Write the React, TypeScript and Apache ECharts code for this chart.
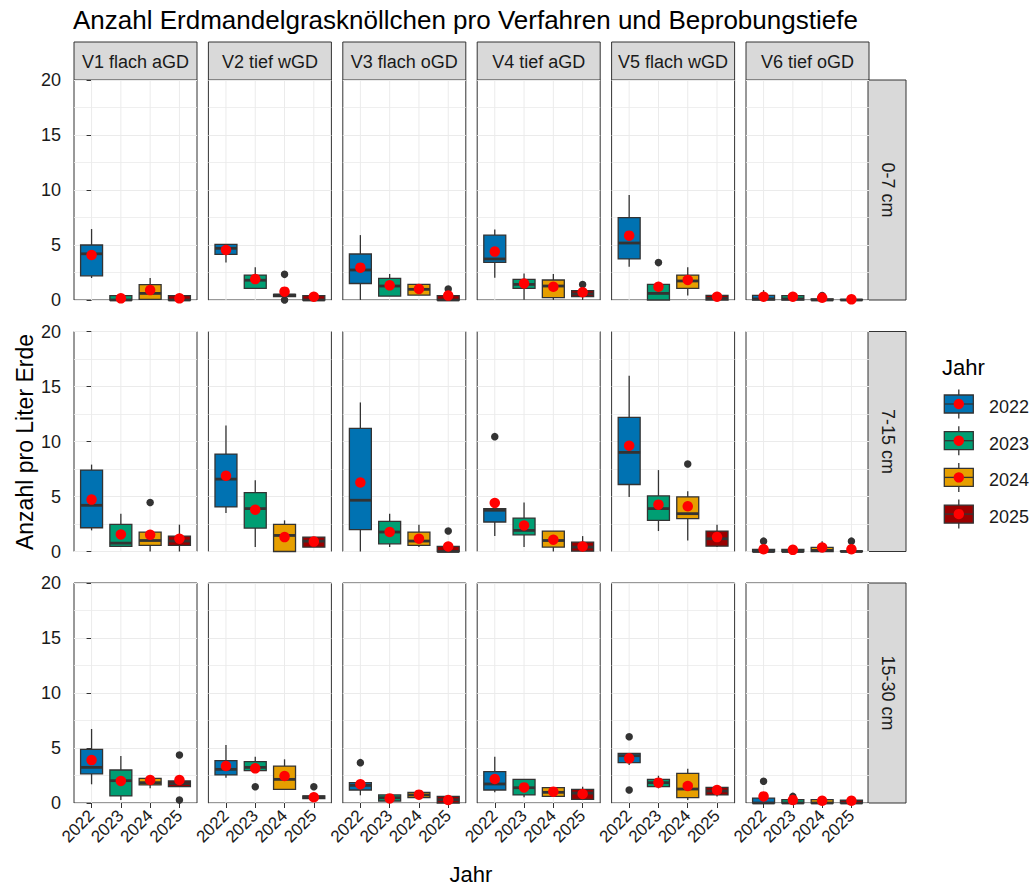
import React, { useEffect, useRef } from 'react';
import * as echarts from 'echarts';

const years = ['2022', '2023', '2024', '2025'];
const verfahren = ['V1 flach aGD', 'V2 tief wGD', 'V3 flach oGD', 'V4 tief aGD', 'V5 flach wGD', 'V6 tief oGD'];
const tiefen = ['0-7 cm', '7-15 cm', '15-30 cm'];
const yearColors = ['#0072B2', '#009E73', '#E69F00', '#990000'];
const chartTitle = 'Anzahl Erdmandelgrasknöllchen pro Verfahren und Beprobungstiefe';
const yTitle = 'Anzahl pro Liter Erde';
const xTitle = 'Jahr';
const legendTitle = 'Jahr';

// per Verfahren, per Jahr: [unterer Whisker, Q1, Median, Q3, oberer Whisker]
const box07 = [
  [[2.0, 2.2, 4.2, 5.0, 6.45], [0, 0, 0, 0.4, 0.4], [0, 0.05, 0.6, 1.4, 2.0], [0, 0, 0, 0.4, 0.4]],
  [[3.4, 4.15, 4.7, 5.05, 5.05], [1.0, 1.06, 1.8, 2.27, 2.97], [0.3, 0.3, 0.45, 0.52, 0.52], [0, 0, 0, 0.4, 0.4]],
  [[0, 1.5, 2.73, 4.18, 5.9], [0.36, 0.36, 1.27, 1.97, 2.36], [0.45, 0.45, 0.97, 1.42, 1.42], [0, 0, 0, 0.4, 0.4]],
  [[2.03, 3.42, 3.73, 5.9, 6.42], [0, 1.06, 1.42, 1.88, 2.42], [0, 0.21, 1.27, 1.82, 2.36], [0, 0.3, 0.55, 0.85, 0.85]],
  [[3.03, 3.73, 5.18, 7.48, 9.55], [0, 0, 0.6, 1.42, 1.42], [0.4, 1.06, 1.73, 2.27, 2.97], [0, 0, 0.15, 0.42, 0.42]],
  [[0, 0, 0.1, 0.42, 0.9], [0, 0, 0.1, 0.4, 0.4], [0, 0, 0, 0.1, 0.1], [0, 0, 0, 0.05, 0.05]],
];
const mean07 = [
  [4.09, 0.15, 0.9, 0.15],
  [4.55, 1.9, 0.76, 0.3],
  [2.94, 1.33, 1.0, 0.4],
  [4.4, 1.5, 1.2, 0.7],
  [5.85, 1.2, 1.82, 0.3],
  [0.3, 0.3, 0.2, 0.06],
];
const out07 = [
  [[], [], [], []],
  [[], [], [2.33, 0], []],
  [[], [], [], [1.0]],
  [[], [], [], [1.4]],
  [[], [3.4], [], []],
  [[], [], [0.4], []],
];

const box715 = [
  [[1.92, 2.16, 4.2, 7.4, 7.9], [0.46, 0.46, 0.76, 2.47, 3.44], [0, 0.55, 1.0, 1.77, 1.77], [0, 0.55, 0.95, 1.4, 2.44]],
  [[3.5, 4.05, 6.58, 8.86, 11.45], [0.4, 2.13, 3.9, 5.36, 6.48], [0, 0, 1.46, 2.47, 2.83], [0.4, 0.4, 0.94, 1.31, 1.31]],
  [[0, 1.98, 4.66, 11.2, 13.55], [0.4, 0.7, 1.77, 2.74, 3.44], [0.4, 0.55, 0.95, 1.77, 2.44], [0, 0, 0, 0.46, 0.46]],
  [[1.4, 2.68, 3.75, 3.9, 3.9], [0.4, 1.52, 1.92, 3.04, 4.45], [0, 0.4, 1.0, 1.86, 1.86], [0, 0.03, 0.4, 0.85, 1.4]],
  [[4.96, 6.09, 9.01, 12.2, 15.98], [1.86, 2.83, 3.9, 5.05, 7.4], [1.0, 2.98, 3.44, 4.96, 5.48], [0.4, 0.49, 1.16, 1.86, 2.44]],
  [[0, 0, 0, 0.2, 0.2], [0, 0, 0, 0.2, 0.2], [0, 0, 0.1, 0.37, 0.94], [0, 0, 0, 0.05, 0.05]],
];
const mean715 = [
  [4.72, 1.55, 1.52, 1.16],
  [6.88, 3.8, 1.31, 0.9],
  [6.27, 1.77, 1.16, 0.46],
  [4.41, 2.37, 1.07, 0.46],
  [9.62, 4.26, 4.11, 1.31],
  [0.2, 0.15, 0.37, 0.2],
];
const out715 = [
  [[], [], [4.45], []],
  [[], [], [], []],
  [[], [], [], [1.86]],
  [[10.44], [], [], []],
  [[], [], [7.95], []],
  [[0.94], [], [], [0.94]],
];

const box1530 = [
  [[1.7, 2.64, 3.24, 4.88, 6.73], [0.27, 0.64, 2.03, 3.0, 4.27], [1.33, 1.64, 1.85, 2.24, 2.24], [1.48, 1.48, 1.76, 2.0, 2.0]],
  [[2.3, 2.55, 3.06, 3.85, 5.27], [2.94, 2.94, 3.24, 3.76, 4.21], [1.24, 1.24, 2.15, 3.36, 3.97], [0.39, 0.39, 0.55, 0.64, 0.64]],
  [[0.7, 1.18, 1.6, 1.85, 1.85], [0.18, 0.18, 0.48, 0.73, 0.73], [0.48, 0.48, 0.73, 0.97, 0.97], [0, 0, 0.3, 0.6, 0.6]],
  [[0.97, 1.18, 1.73, 2.85, 4.21], [0.52, 0.73, 1.39, 2.15, 2.15], [0.6, 0.6, 0.97, 1.39, 1.39], [0.33, 0.33, 0.9, 1.24, 1.48]],
  [[3.45, 3.67, 4.3, 4.52, 4.52], [1.33, 1.48, 1.85, 2.15, 2.48], [0.27, 0.48, 1.27, 2.7, 3.12], [0.6, 0.73, 1.09, 1.42, 1.5]],
  [[0, 0, 0, 0.45, 0.45], [0, 0, 0, 0.3, 0.3], [0, 0, 0, 0.3, 0.3], [0, 0, 0, 0.25, 0.25]],
];
const mean1530 = [
  [3.9, 2.0, 2.09, 2.09],
  [3.36, 3.15, 2.45, 0.52],
  [1.7, 0.42, 0.76, 0.27],
  [2.18, 1.42, 1.03, 0.82],
  [4.06, 1.85, 1.55, 1.18],
  [0.6, 0.27, 0.2, 0.2],
];
const out1530 = [
  [[], [], [], [4.36, 0.27]],
  [[], [1.48], [], [1.48]],
  [[3.67], [], [], []],
  [[], [], [], []],
  [[6.03, 1.18], [], [], []],
  [[1.97], [0.6], [], []],
];

const boxes = [box07, box715, box1530];
const means = [mean07, mean715, mean1530];
const outliers = [out07, out715, out1530];

const FONT = "'Liberation Sans', Arial, Helvetica, sans-serif";
const TXT = '#1A1A1A';
const GRIDC = '#EBEBEB';
const DARK = '#333333';

export default function App() {
  const ref = useRef<HTMLDivElement>(null);
  useEffect(() => {
    const chart = echarts.init(ref.current as HTMLDivElement, null, { renderer: 'svg' });
    const colLeft = (i: number) => 74 + i * 134.4;
    const rowTop = (j: number) => 80 + j * 251.5;
    const PW = 123;
    const PH = 220;

    const grids: any[] = [];
    const xAxes: any[] = [];
    const yAxes: any[] = [];
    const series: any[] = [];
    const graphics: any[] = [];
    const xIdx = years.map((_, k) => k);

    for (let r = 0; r < 3; r++) {
      for (let c = 0; c < 6; c++) {
        const g = r * 6 + c;
        grids.push({
          left: colLeft(c), top: rowTop(r), width: PW, height: PH,
          show: true, borderColor: DARK, borderWidth: 1, backgroundColor: '#fff',
        });
        xAxes.push({
          type: 'value', gridIndex: g, min: -0.6, max: 3.6,
          splitLine: { show: false },
          axisLine: { show: false },
          axisTick: { show: r === 2, customValues: xIdx, length: 5, lineStyle: { color: DARK, width: 1 } },
          axisLabel: {
            show: r === 2, customValues: xIdx, rotate: 45, margin: 10,
            formatter: (v: number) => years[Math.round(v)] ?? '',
            fontSize: 17, color: TXT, fontFamily: FONT,
          },
        });
        yAxes.push({
          type: 'value', gridIndex: g, min: 0, max: 20, interval: 5,
          axisLine: { show: false },
          axisTick: { show: c === 0, length: 5, lineStyle: { color: DARK, width: 1 } },
          axisLabel: { show: c === 0, fontSize: 18, color: TXT, fontFamily: FONT, margin: 13 },
          splitLine: { show: true, lineStyle: { color: GRIDC, width: 1 } },
          minorTick: { show: false, splitNumber: 2 },
          minorSplitLine: { show: true, lineStyle: { color: GRIDC, width: 0.8 } },
        });
        // vertical grid lines at each Jahr
        series.push({
          type: 'custom', xAxisIndex: g, yAxisIndex: g, z: 1, silent: true,
          data: xIdx.map((k) => [k, 0]),
          encode: { x: 0, y: 1 },
          renderItem: (params: any, api: any) => {
            const x = api.value(0);
            const p0 = api.coord([x, 0]);
            const p1 = api.coord([x, 20]);
            return { type: 'line', shape: { x1: p0[0], y1: p0[1], x2: p1[0], y2: p1[1] }, style: { stroke: GRIDC, lineWidth: 1 } };
          },
        });
        // boxes
        const boxData = boxes[r][c].map((b, k) => [k, b[0], b[1], b[2], b[3], b[4], k]);
        series.push({
          type: 'custom', xAxisIndex: g, yAxisIndex: g, z: 2, silent: true,
          data: boxData,
          encode: { x: 0, y: [1, 2, 3, 4, 5] },
          renderItem: (params: any, api: any) => {
            const x = api.value(0);
            const lo = api.coord([x, api.value(1)]);
            const q1 = api.coord([x, api.value(2)]);
            const md = api.coord([x, api.value(3)]);
            const q3 = api.coord([x, api.value(4)]);
            const hi = api.coord([x, api.value(5)]);
            const hw = api.size([0.75, 0])[0] / 2;
            const col = yearColors[api.value(6)];
            const cx = lo[0];
            return {
              type: 'group',
              children: [
                { type: 'line', shape: { x1: cx, y1: q3[1], x2: cx, y2: hi[1] }, style: { stroke: DARK, lineWidth: 1.3 } },
                { type: 'line', shape: { x1: cx, y1: q1[1], x2: cx, y2: lo[1] }, style: { stroke: DARK, lineWidth: 1.3 } },
                { type: 'rect', shape: { x: cx - hw, y: q3[1], width: hw * 2, height: Math.max(q1[1] - q3[1], 0.5) }, style: { fill: col, stroke: DARK, lineWidth: 1.3 } },
                { type: 'line', shape: { x1: cx - hw, y1: md[1], x2: cx + hw, y2: md[1] }, style: { stroke: DARK, lineWidth: 2.8 } },
              ],
            };
          },
        });
        // outliers
        const outData: number[][] = [];
        outliers[r][c].forEach((arr, k) => arr.forEach((v) => outData.push([k, v])));
        series.push({
          type: 'scatter', xAxisIndex: g, yAxisIndex: g, z: 3, silent: true, clip: false,
          symbol: 'circle', symbolSize: 7.5, itemStyle: { color: DARK, opacity: 1 },
          data: outData,
        });
        // means
        series.push({
          type: 'scatter', xAxisIndex: g, yAxisIndex: g, z: 4, silent: true, clip: false,
          symbol: 'circle', symbolSize: 10.5, itemStyle: { color: '#FF0000', opacity: 1 },
          data: means[r][c].map((v, k) => [k, v]),
        });
      }
    }

    // top strips
    verfahren.forEach((name, c) => {
      graphics.push({ type: 'rect', shape: { x: colLeft(c), y: 42, width: PW, height: 38 }, style: { fill: '#D9D9D9', stroke: DARK, lineWidth: 1 } });
      graphics.push({ type: 'text', x: colLeft(c) + PW / 2, y: 62, style: { text: name, fill: TXT, font: `18px ${FONT}`, align: 'center', verticalAlign: 'middle' } });
    });
    // right strips
    tiefen.forEach((name, r) => {
      graphics.push({ type: 'rect', shape: { x: 868, y: rowTop(r), width: 38, height: PH }, style: { fill: '#D9D9D9', stroke: DARK, lineWidth: 1 } });
      graphics.push({ type: 'text', x: 888, y: rowTop(r) + PH / 2, rotation: -Math.PI / 2, style: { text: name, fill: TXT, font: `18px ${FONT}`, align: 'center', verticalAlign: 'middle' } });
    });
    // titles
    graphics.push({ type: 'text', x: 73, y: 20, style: { text: chartTitle, fill: '#000', font: `26px ${FONT}`, align: 'left', verticalAlign: 'middle' } });
    graphics.push({ type: 'text', x: 25, y: 442, rotation: Math.PI / 2, style: { text: yTitle, fill: '#000', font: `23px ${FONT}`, align: 'center', verticalAlign: 'middle' } });
    graphics.push({ type: 'text', x: 471, y: 874, style: { text: xTitle, fill: '#000', font: `22px ${FONT}`, align: 'center', verticalAlign: 'middle' } });
    // legend
    graphics.push({ type: 'text', x: 942, y: 367, style: { text: legendTitle, fill: '#000', font: `22px ${FONT}`, align: 'left', verticalAlign: 'middle' } });
    years.forEach((y, k) => {
      const cy = 404 + k * 36.7;
      const cx = 958.8;
      graphics.push({ type: 'line', shape: { x1: cx, y1: cy - 14.5, x2: cx, y2: cy + 14.5 }, style: { stroke: DARK, lineWidth: 1.3 } });
      graphics.push({ type: 'rect', shape: { x: 944.3, y: cy - 9, width: 29, height: 18 }, style: { fill: yearColors[k], stroke: DARK, lineWidth: 1.3 } });
      graphics.push({ type: 'line', shape: { x1: 944.3, y1: cy, x2: 973.3, y2: cy }, style: { stroke: DARK, lineWidth: 1.3 } });
      graphics.push({ type: 'circle', shape: { cx, cy, r: 5.2 }, style: { fill: '#FF0000' } });
      graphics.push({ type: 'text', x: 989, y: cy + 3, style: { text: y, fill: TXT, font: `18px ${FONT}`, align: 'left', verticalAlign: 'middle' } });
    });

    chart.setOption({
      animation: false,
      backgroundColor: '#fff',
      textStyle: { fontFamily: FONT },
      grid: grids,
      xAxis: xAxes,
      yAxis: yAxes,
      series,
      graphic: { elements: graphics },
    });
    return () => chart.dispose();
  }, []);
  return <div ref={ref} style={{ position: 'fixed', left: 0, top: 0, width: 1031, height: 887, background: '#fff' }} />;
}
